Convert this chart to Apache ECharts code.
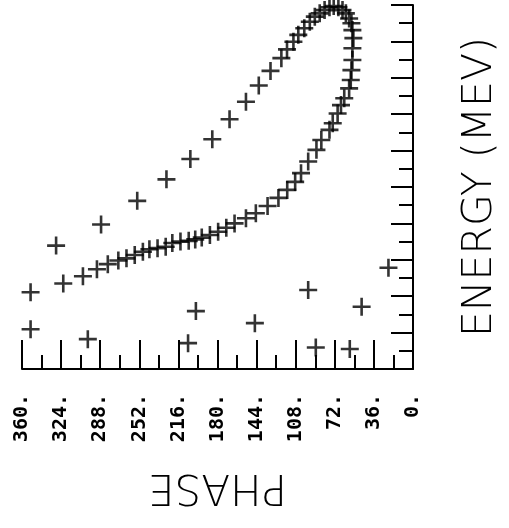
<!DOCTYPE html>
<html><head><meta charset="utf-8">
<script src="https://cdn.jsdelivr.net/npm/echarts@6/dist/echarts.min.js"></script>
<style>html,body{margin:0;padding:0;background:#fff}#chart{width:509px;height:528px}</style>
</head><body>
<div id="chart"></div>
<script>
// phase (deg) and energy (tick units)
var bunchPhase = [328.6, 287.2, 253.9, 227.0, 205.0, 184.8, 168.9, 153.8, 142.0, 131.2,
  121.2, 116.0, 110.1, 105.6, 100.1, 95.0, 90.4, 85.9, 81.4, 76.9,
  73.0, 68.7, 64.9, 61.8, 58.8, 56.7, 55.8, 54.9, 55.8, 55.8,
  56.7, 57.3, 58.8, 63.3, 66.3, 69.4, 73.9, 76.9, 84.4, 88.9,
  96.5, 103.1, 108.5, 115.8, 123.9, 133.9, 144.7, 153.8, 164.3, 171.9,
  179.4, 187.0, 194.5, 200.5, 206.5, 214.1, 221.6, 227.7, 235.2, 242.7,
  248.7, 256.2, 263.8, 271.3, 281.0, 291.0, 303.9, 322.0, 352.1];
var bunchEnergy = [3.39, 3.97, 4.62, 5.21, 5.77, 6.31, 6.86, 7.34, 7.79, 8.19,
  8.54, 8.78, 8.99, 9.18, 9.36, 9.54, 9.68, 9.77, 9.86, 9.94,
  9.97, 9.94, 9.86, 9.77, 9.63, 9.50, 9.31, 9.09, 8.81, 8.49,
  8.21, 7.94, 7.71, 7.44, 7.25, 7.02, 6.75, 6.57, 6.29, 6.02,
  5.70, 5.38, 5.14, 4.92, 4.70, 4.48, 4.28, 4.14, 4.00, 3.88,
  3.77, 3.68, 3.61, 3.56, 3.52, 3.50, 3.46, 3.36, 3.32, 3.29,
  3.22, 3.13, 3.04, 2.98, 2.88, 2.74, 2.55, 2.35, 2.11];
var haloPhase = [352.1, 299.4, 199.9, 207.1, 145.6, 96.5, 89.5, 58.2, 47.3, 22.6];
var haloEnergy = [1.09, 0.82, 1.59, 0.71, 1.26, 2.17, 0.59, 0.55, 1.71, 2.78];

function pairs(xs, ys) {
  var out = [];
  for (var i = 0; i < xs.length; i++) out.push([xs[i], ys[i]]);
  return out;
}

var plus = 'path://M-1.3,-9H1.3V-1.3H9V1.3H1.3V9H-1.3V1.3H-9V-1.3H-1.3Z';
var chart = echarts.init(document.getElementById('chart'));
chart.setOption({
  animation: false,
  backgroundColor: '#fff',
  grid: { left: 22, right: 89, top: 5, bottom: 159 },
  xAxis: {
    type: 'value', min: 0, max: 360, interval: 36, inverse: true,
    name: 'PHASE', nameLocation: 'middle', nameRotate: 180, nameGap: 96,
    nameTextStyle: { fontFamily: 'DejaVu Sans', fontWeight: 200, fontSize: 42, color: '#000' },
    axisLine: { lineStyle: { color: '#000', width: 2 } },
    axisTick: { inside: true, length: 29, lineStyle: { color: '#000', width: 2 } },
    minorTick: { show: true, splitNumber: 2, length: 14, lineStyle: { color: '#000', width: 2 } },
    splitLine: { show: false },
    axisLabel: {
      rotate: 90, margin: 25, color: '#000', fontFamily: 'DejaVu Sans Mono', fontWeight: 'bold', fontSize: 20,
      formatter: function (v) { return v + '.'; }
    }
  },
  yAxis: {
    type: 'value', min: 0, max: 10, interval: 1, position: 'right',
    name: 'ENERGY (MEV)', nameLocation: 'middle', nameRotate: 90, nameGap: 47,
    nameTextStyle: { fontFamily: 'DejaVu Sans', fontWeight: 200, fontSize: 41, color: '#000' },
    axisLine: { show: true, lineStyle: { color: '#000', width: 2 } },
    axisTick: { inside: true, length: 22, lineStyle: { color: '#000', width: 2 } },
    minorTick: { show: true, splitNumber: 2, length: 14, lineStyle: { color: '#000', width: 2 } },
    splitLine: { show: false },
    axisLabel: { show: false }
  },
  series: [
    { type: 'scatter', data: pairs(bunchPhase, bunchEnergy), symbol: plus, symbolSize: 18,
      itemStyle: { color: '#000' }, silent: true },
    { type: 'scatter', data: pairs(haloPhase, haloEnergy), symbol: plus, symbolSize: 18,
      itemStyle: { color: '#000' }, silent: true }
  ]
});
</script>
</body></html>
